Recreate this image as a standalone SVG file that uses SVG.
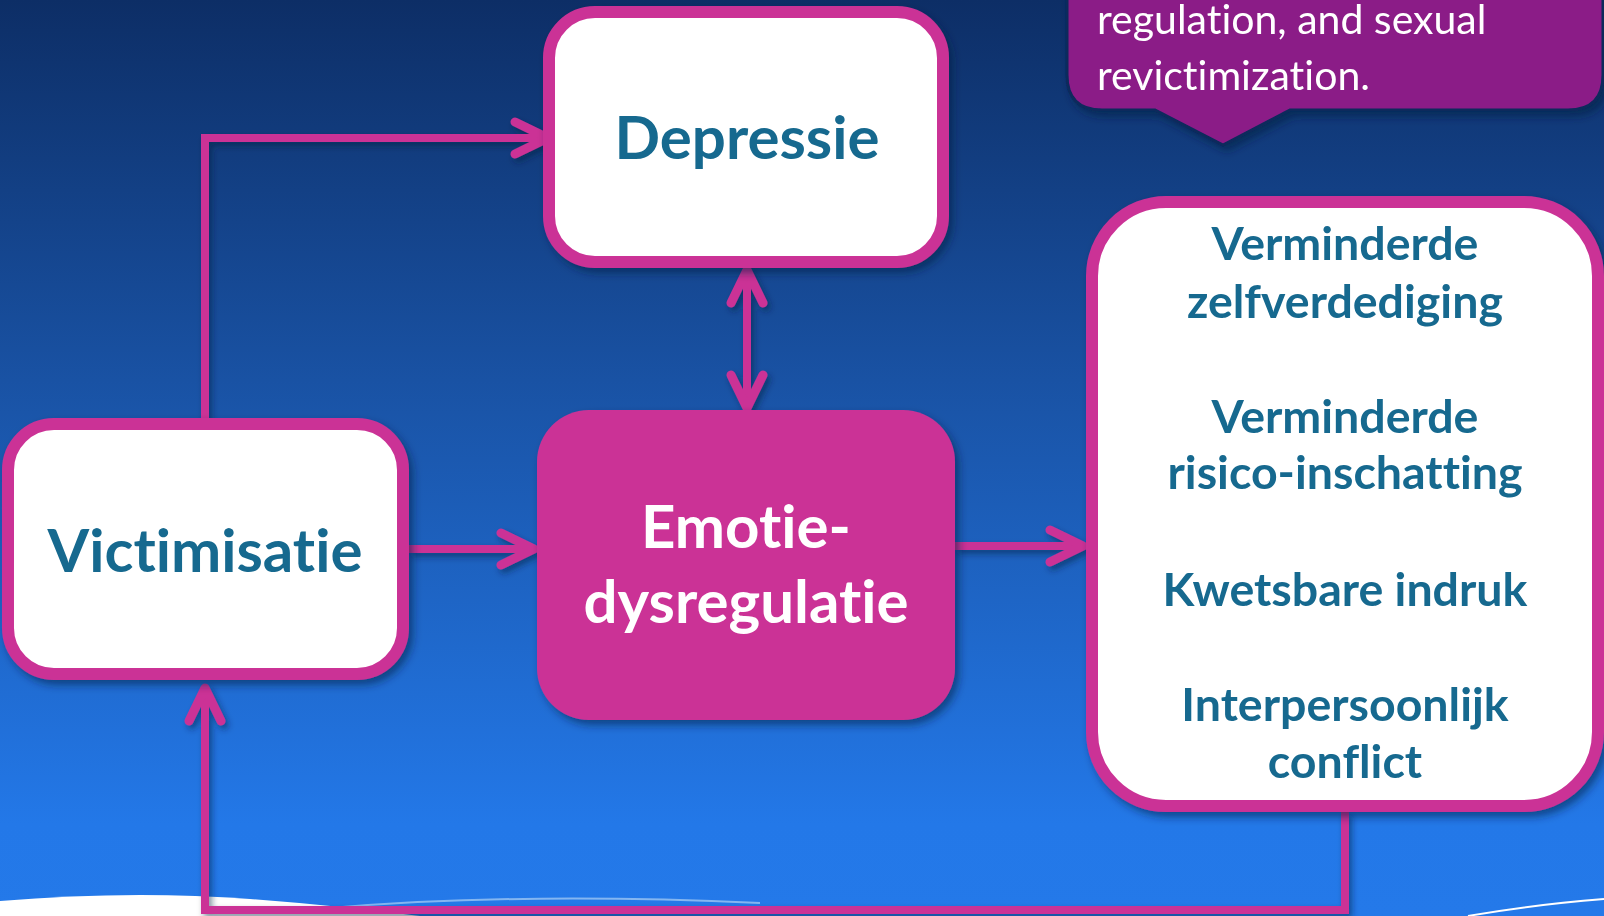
<svg xmlns="http://www.w3.org/2000/svg" width="1604" height="916" viewBox="0 0 1604 916">
<defs>
<linearGradient id="bg" x1="0" y1="0" x2="0" y2="1">
<stop offset="0" stop-color="#0d2e66"/>
<stop offset="0.45" stop-color="#1a55a9"/>
<stop offset="0.9" stop-color="#2378e8"/>
<stop offset="1" stop-color="#2479e9"/>
</linearGradient>
<filter id="sh" x="-10%" y="-10%" width="130%" height="130%">
<feDropShadow dx="4" dy="5" stdDeviation="4" flood-color="#061a3d" flood-opacity="0.55"/>
</filter>
<filter id="lsh" x="-5%" y="-5%" width="110%" height="110%" filterUnits="userSpaceOnUse">
<feDropShadow dx="3" dy="4" stdDeviation="3" flood-color="#061a3d" flood-opacity="0.5"/>
</filter>
<marker id="ah" markerUnits="userSpaceOnUse" markerWidth="60" markerHeight="60" viewBox="-45 -30 60 60" refX="0" refY="0" orient="auto" overflow="visible">
<path d="M-33,-16 L0,0 L-33,16" fill="none" stroke="#cb3396" stroke-width="9" stroke-linecap="round" stroke-linejoin="round"/>
</marker>
<marker id="ahs" markerUnits="userSpaceOnUse" markerWidth="60" markerHeight="60" viewBox="-45 -30 60 60" refX="0" refY="0" orient="auto-start-reverse" overflow="visible">
<path d="M-33,-16 L0,0 L-33,16" fill="none" stroke="#cb3396" stroke-width="9" stroke-linecap="round" stroke-linejoin="round"/>
</marker>
<style>
text{font-variant-ligatures:none;font-feature-settings:"liga" 0,"clig" 0,"dlig" 0}
.box{fill:#ffffff;stroke:#cb3396;stroke-width:12}
.lbl{font-family:Lato,"Open Sans",sans-serif;font-weight:700;fill:#17698f;text-anchor:middle}
.big{font-size:60px}
.med{font-size:46.5px}
.wht{fill:#ffffff}
.con{fill:none;stroke:#cb3396;stroke-width:8;stroke-linejoin:miter;stroke-linecap:butt}
.call{font-family:Lato,"Open Sans",sans-serif;font-size:41px;fill:#ffffff}
</style>
</defs>
<rect x="0" y="0" width="1604" height="916" fill="url(#bg)"/>
<path d="M0,901 Q130,890 250,899 Q330,905 420,916 L0,916 Z" fill="#ffffff"/>
<path d="M330,908 Q520,892 760,903" fill="none" stroke="#9cc6f2" stroke-width="2" opacity="0.8"/>
<path d="M1468,916 Q1530,905 1604,899" fill="none" stroke="#ffffff" stroke-width="2"/>

<g id="connectors" filter="url(#lsh)">
<path class="con" d="M205,418 V138 H548" marker-end="url(#ah)"/>
<path class="con" d="M747,270 V408" marker-start="url(#ahs)" marker-end="url(#ah)"/>
<path class="con" d="M409,549 H534" marker-end="url(#ah)"/>
<path class="con" d="M955,546 H1083" marker-end="url(#ah)"/>
<path class="con" d="M1345,812 V910 H205 V688" stroke-width="9" marker-end="url(#ah)"/>
</g>

<g id="callout" filter="url(#sh)">
<path d="M1067,-20 V75 Q1067,110 1102,110 H1155 L1223,145 L1290,110 H1568 Q1603,110 1603,75 V-20 Z" fill="#8b1b87" stroke="#0c2a5c" stroke-width="3"/>
<text class="call" x="1097" y="34">regulation, and sexual</text>
<text class="call" x="1097" y="90">revictimization.</text>
</g>

<g id="depressie" filter="url(#sh)">
<rect class="box" x="549" y="12" width="394" height="250" rx="46"/>
<text class="lbl big" x="747" y="159">Depressie</text>
</g>

<g id="victimisatie" filter="url(#sh)">
<rect class="box" x="8" y="424" width="395" height="250" rx="46"/>
<text class="lbl big" x="205" y="572">Victimisatie</text>
</g>

<g id="emotie" filter="url(#sh)">
<rect x="537" y="410" width="418" height="310" rx="52" fill="#cb3396"/>
<text class="lbl big wht" x="746" y="548">Emotie-</text>
<text class="lbl big wht" x="746" y="623">dysregulatie</text>
</g>

<g id="gevolgen" filter="url(#sh)">
<rect class="box" x="1092" y="202" width="506" height="604" rx="74"/>
<text class="lbl med" x="1345" y="260">Verminderde</text>
<text class="lbl med" x="1345" y="318">zelfverdediging</text>
<text class="lbl med" x="1345" y="433">Verminderde</text>
<text class="lbl med" x="1345" y="489">risico-inschatting</text>
<text class="lbl med" x="1345" y="606">Kwetsbare indruk</text>
<text class="lbl med" x="1345" y="721">Interpersoonlijk</text>
<text class="lbl med" x="1345" y="778">conflict</text>
</g>
</svg>
